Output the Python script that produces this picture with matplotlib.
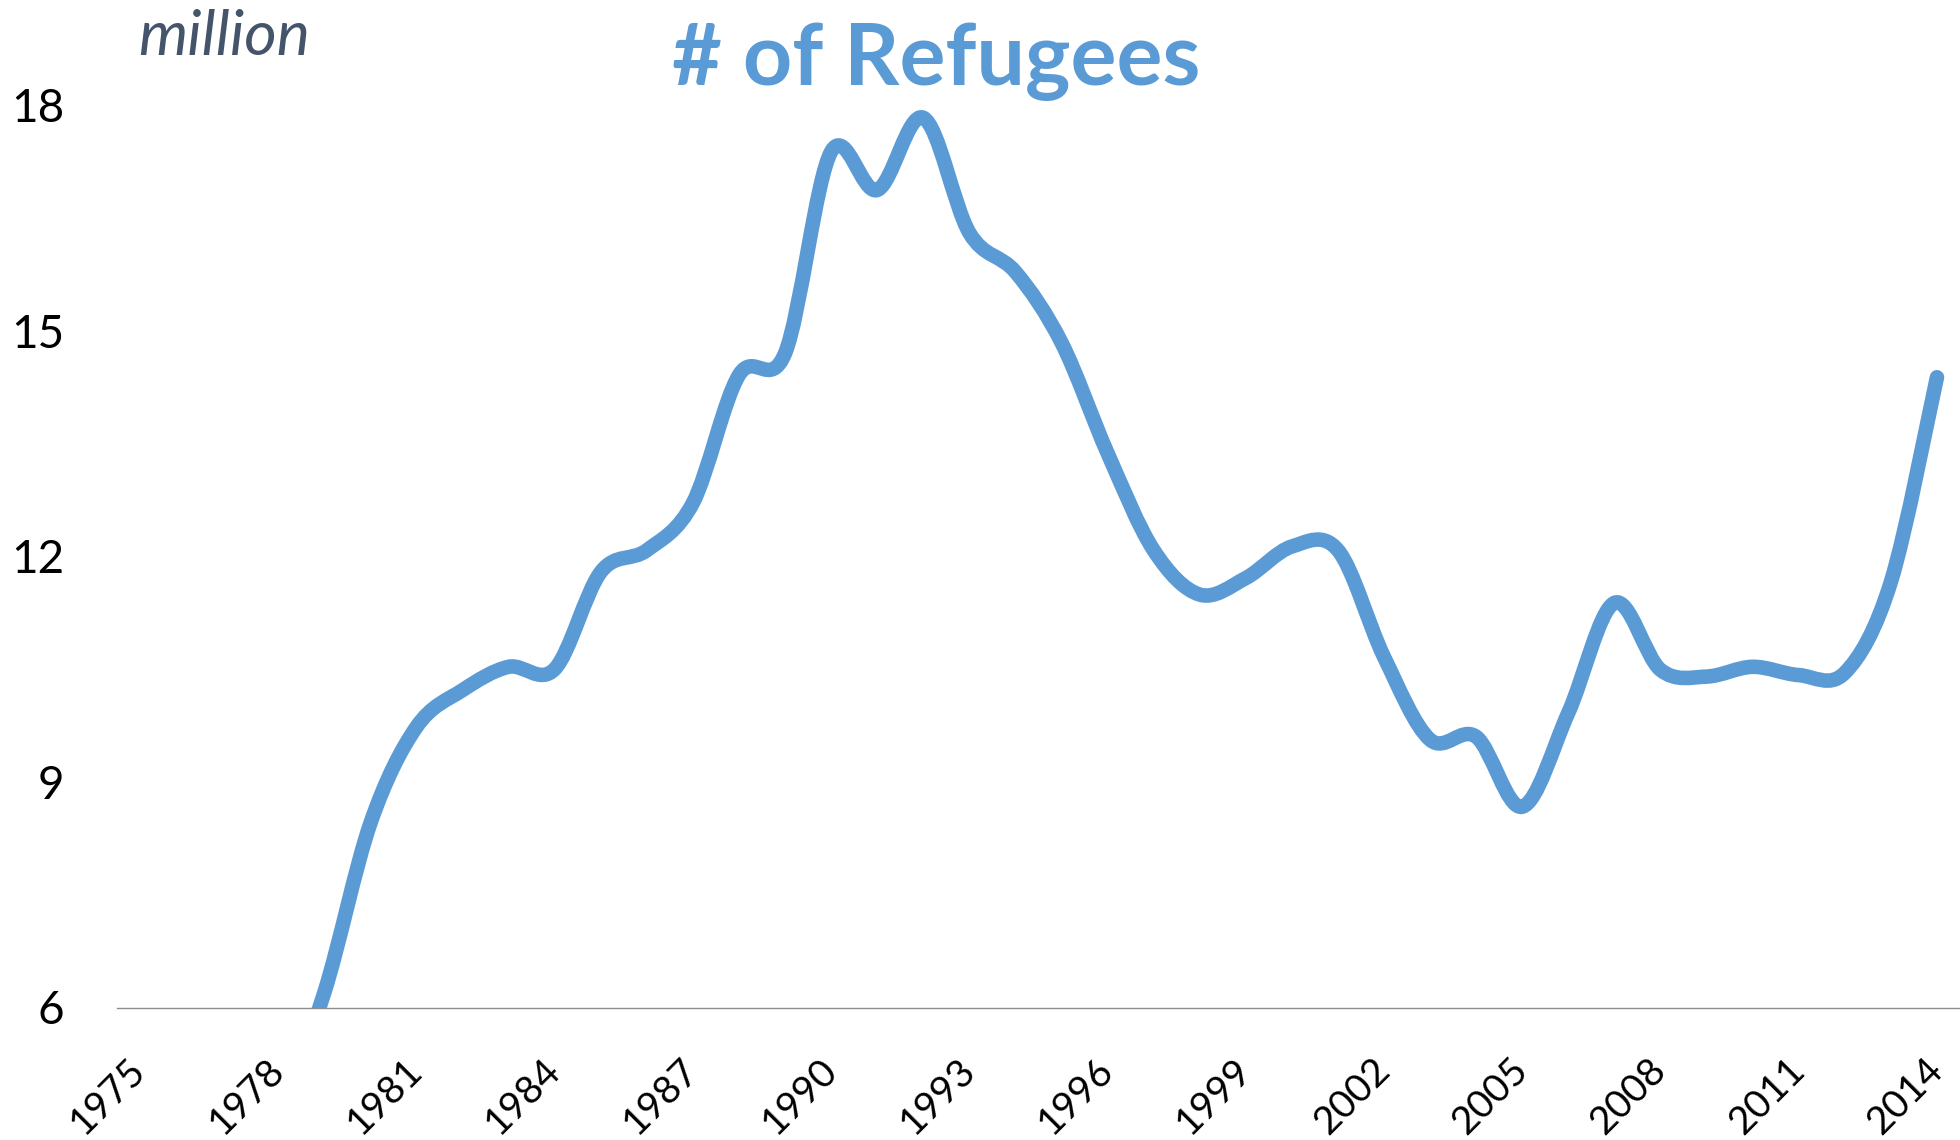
"""Number of refugees per year, smoothed line chart"""

import matplotlib
matplotlib.use('Agg')
import matplotlib.pyplot as plt
from matplotlib.path import Path
from matplotlib.patches import PathPatch


# yearly values in million (1975-1978 sit below the axis and are clipped)
years = list(range(1975, 2015))
refugees = [2.4, 2.8, 3.3, 4.6,
            6.2, 8.45, 9.73, 10.22, 10.53, 10.5, 11.79, 12.08, 12.71,
            14.41, 14.7,
            17.38, 16.87, 17.83, 16.3, 15.78, 14.84, 13.37, 12.08, 11.49,
            11.71,
            12.13, 12.08, 10.66, 9.56, 9.6, 8.67, 9.92, 11.38, 10.49, 10.4,
            10.53, 10.42, 10.45, 11.66, 14.38]

tick_years = list(range(1975, 2015, 3))
y_ticks = [6, 9, 12, 15, 18]

title = '# of Refugees'
unit = 'million'

LINE_COLOR = '#5B9BD5'
UNIT_COLOR = '#44546A'
FONT = ['Lato', 'DejaVu Sans']


# build a smooth bezier path through the points (like a smoothed
# spreadsheet line), control points taken from the neighbours
def smooth_path(xs, ys):
    n = len(xs)
    verts = [(xs[0], ys[0])]
    codes = [Path.MOVETO]
    for i in range(n - 1):
        i0 = max(i - 1, 0)
        i3 = min(i + 2, n - 1)
        c1 = (xs[i] + (xs[i + 1] - xs[i0]) / 6.0,
              ys[i] + (ys[i + 1] - ys[i0]) / 6.0)
        c2 = (xs[i + 1] - (xs[i3] - xs[i]) / 6.0,
              ys[i + 1] - (ys[i3] - ys[i]) / 6.0)
        verts += [c1, c2, (xs[i + 1], ys[i + 1])]
        codes += [Path.CURVE4] * 3
    return Path(verts, codes)


fig = plt.figure(figsize=(19.6, 11.4), dpi=100)
fig.patch.set_facecolor('white')

# plot area in figure fractions
left = 117 / 1960
bottom = (1140 - 1007.5) / 1140
top = (1140 - 105) / 1140
ax = fig.add_axes([left, bottom, 1 - left, top - bottom])

patch = PathPatch(smooth_path(years, refugees), transform=ax.transData,
                  facecolor='none', edgecolor=LINE_COLOR, linewidth=10.5,
                  capstyle='round', joinstyle='round')
ax.add_patch(patch)

ax.set_xlim(1974.5, 2014.5)
ax.set_ylim(6, 18)

# axes look
for side in ['left', 'top', 'right']:
    ax.spines[side].set_visible(False)
ax.spines['bottom'].set_color('#8c8c8c')
ax.spines['bottom'].set_linewidth(1.0)

ax.set_yticks(y_ticks)
ax.set_yticklabels([str(v) for v in y_ticks], family=FONT, fontsize=33)
ax.tick_params(axis='y', length=0, pad=38)

ax.set_xticks(tick_years)
ax.set_xticklabels([str(y) for y in tick_years], family=FONT, fontsize=28,
                   rotation=45, ha='right', va='center',
                   rotation_mode='anchor')
ax.tick_params(axis='x', length=0, pad=41)

# title and unit label
fig.text(936 / 1960, 1 - 85 / 1140, title, family=FONT, fontsize=62,
         fontweight='bold', color=LINE_COLOR, ha='center', va='baseline')
fig.text(138 / 1960, 1 - 55 / 1140, unit, family=FONT, fontsize=45,
         fontstyle='italic', color=UNIT_COLOR, ha='left', va='baseline')

fig.savefig('out.png', dpi=100, facecolor='white')
